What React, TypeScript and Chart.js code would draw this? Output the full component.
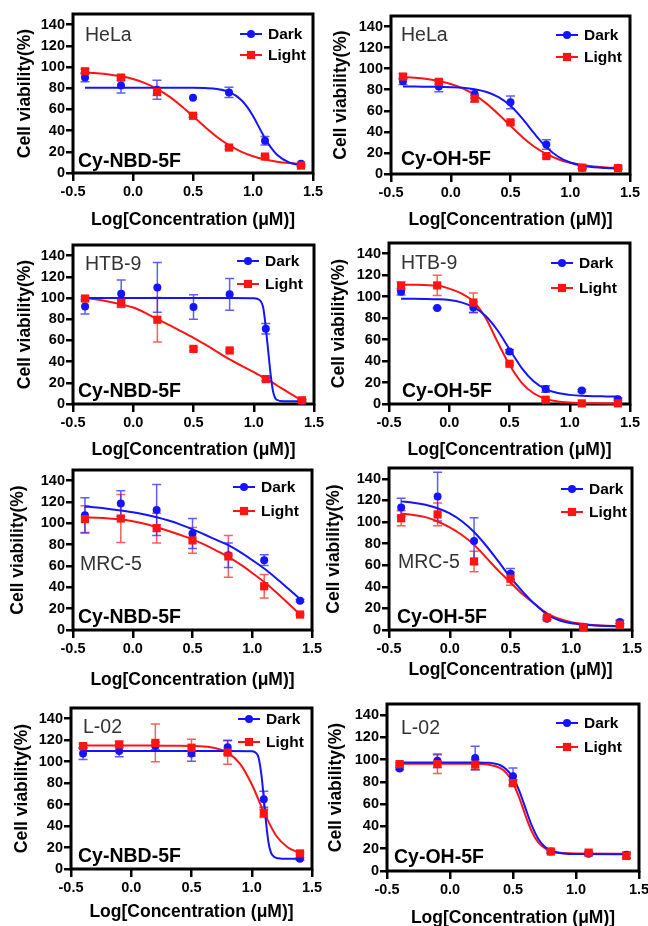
import React, { useEffect, useRef } from 'react';
import { Chart, registerables } from 'chart.js';

Chart.register(...registerables);

const FONT = "'Liberation Sans', Arial, Helvetica, sans-serif";
const BLUE = 'rgb(20, 20, 255)';
const RED = 'rgb(255, 20, 20)';
const BLUE_ERR = 'rgba(40, 40, 255, 0.75)';
const RED_ERR = 'rgba(255, 40, 40, 0.75)';

// ---------- shared axes ----------
const DOSE_X = [-0.4, -0.1, 0.2, 0.5, 0.8, 1.1, 1.4];
const FIT_X = [-0.4, -0.3, -0.2, -0.1, 0, 0.1, 0.2, 0.3, 0.4, 0.5, 0.6, 0.7, 0.8, 0.9, 1.0, 1.1, 1.2, 1.3, 1.4];
const X_TICKS = [-0.5, 0, 0.5, 1.0, 1.5];
const Y_TICKS = [0, 20, 40, 60, 80, 100, 120, 140];
const SERIES_NAMES = ['Dark', 'Light'];
const X_TITLE = 'Log[Concentration (μM)]';
const Y_TITLE = 'Cell viability(%)';

// ---------- HeLa / Cy-NBD-5F ----------
const HELA_NBD_DARK = [90, 82.5, 78.5, 71, 76, 30.5, 8.8];
const HELA_NBD_DARK_SD = [4, 7, 9, 0, 4.8, 4, 0];
const HELA_NBD_LIGHT = [96, 90, 76.5, 54, 24, 15.5, 7];
const HELA_NBD_LIGHT_SD = [2, 2.5, 3.5, 1.5, 1.5, 1, 1];
const HELA_NBD_DARK_FIT_X = [-0.4, -0.1, 0.2, 0.5, 0.6, 0.7, 0.8, 0.9, 0.95, 1.0, 1.05, 1.1, 1.15, 1.2, 1.3, 1.4];
const HELA_NBD_DARK_FIT = [80.5, 80.5, 80.5, 80.5, 80.1, 79.2, 76.5, 69.2, 62.6, 53.7, 43.3, 32.8, 23.9, 17.3, 10, 7.3];
const HELA_NBD_LIGHT_FIT = [94.7, 94.0, 92.9, 91.2, 88.6, 84.8, 79.4, 72.3, 63.5, 53.6, 43.4, 34.0, 26.2, 20.2, 15.8, 12.7, 10.7, 9.4, 8.5];

// ---------- HeLa / Cy-OH-5F ----------
const HELA_OH_DARK = [88, 83, 76, 68, 28, 6, 6];
const HELA_OH_DARK_SD = [3, 5, 4, 6, 4.5, 1, 1.5];
const HELA_OH_LIGHT = [92.5, 87.5, 71.5, 49, 17, 6, 5.5];
const HELA_OH_LIGHT_SD = [2.5, 2, 3, 1.5, 1.5, 1, 1];
const HELA_OH_DARK_FIT = [83, 83, 82.9, 82.8, 82.4, 81.8, 80.4, 77.8, 73, 64.7, 52.5, 38.3, 25.5, 16.4, 10.9, 7.9, 6.4, 5.7, 5.3];
const HELA_OH_LIGHT_FIT = [92, 91.3, 90.1, 88.3, 85.5, 81.3, 75.1, 66.8, 56.7, 45.7, 35, 25.9, 19, 14, 10.6, 8.5, 7.1, 6.2, 5.8];

// ---------- HTB-9 / Cy-NBD-5F ----------
const HTB_NBD_DARK = [92, 104, 110, 91.5, 103.5, 71, 3];
const HTB_NBD_DARK_SD = [7, 13, 23.5, 11.5, 15, 5, 1];
const HTB_NBD_LIGHT = [99.5, 95.5, 79.5, 52, 50.5, 23.5, 3.5];
const HTB_NBD_LIGHT_SD = [2, 3, 21, 1.5, 1.5, 1.5, 1];
const HTB_NBD_DARK_FIT_X = [-0.4, 0.2, 0.8, 1.0, 1.05, 1.08, 1.1, 1.12, 1.14, 1.16, 1.19, 1.25, 1.4];
const HTB_NBD_DARK_FIT = [100, 100, 100, 99.8, 98, 90, 72, 50, 28, 12, 4, 2.5, 2.5];
const HTB_NBD_LIGHT_FIT = [100, 98.5, 96.5, 94, 91, 86, 80, 74.5, 68.5, 62.4, 56, 49, 42, 36, 30, 24, 17, 10, 3.5];

// ---------- HTB-9 / Cy-OH-5F ----------
const HTB_OH_DARK = [104.5, 89.5, 90, 49, 14, 12.5, 4.5];
const HTB_OH_DARK_SD = [3, 0.5, 5, 1.5, 3, 1, 1];
const HTB_OH_LIGHT = [110, 110.5, 94.5, 37.5, 4, 0.6, 0.6];
const HTB_OH_LIGHT_SD = [4, 9.5, 9, 1.5, 1, 0.5, 0.5];
const HTB_OH_DARK_FIT = [98, 98, 97.9, 97.6, 96.8, 94.7, 90.4, 82.2, 68.7, 51, 33.7, 21.2, 13.9, 10.2, 8.5, 7.6, 7.2, 7.1, 7];
const HTB_OH_LIGHT_FIT = [111, 111, 110.8, 110.3, 107.5, 103, 95.5, 80.5, 58, 36.5, 20, 10, 4.8, 2.4, 1.3, 0.8, 0.6, 0.5, 0.5];

// ---------- MRC-5 / Cy-NBD-5F ----------
const MRC_NBD_DARK = [107.5, 118.5, 112.5, 90.5, 70, 65.5, 27.5];
const MRC_NBD_DARK_SD = [16.5, 12, 24, 14, 11.5, 5, 1];
const MRC_NBD_LIGHT = [104, 104.5, 95.5, 84, 69, 41, 14.5];
const MRC_NBD_LIGHT_SD = [12.5, 22.5, 14, 12, 19.5, 11, 1];
const MRC_NBD_DARK_FIT = [115.8, 114.8, 113.5, 112, 110.3, 108.2, 105.7, 102.6, 98.8, 94.4, 89.5, 84.5, 79.5, 73, 65.5, 57.6, 48.5, 38.8, 29];
const MRC_NBD_LIGHT_FIT = [105.5, 105.2, 104.6, 103.6, 102, 99.6, 96.3, 92.8, 89, 85, 80, 74.5, 68.6, 61.5, 53.5, 45, 35.5, 25, 14.5];

// ---------- MRC-5 / Cy-OH-5F ----------
const MRC_OH_DARK = [113.5, 123.5, 82.5, 52, 10.5, 3, 7.5];
const MRC_OH_DARK_SD = [8.5, 22.5, 21.5, 5, 1, 1, 1.5];
const MRC_OH_LIGHT = [103.5, 107, 63.5, 47.5, 11.5, 2.5, 5];
const MRC_OH_LIGHT_SD = [7, 10.5, 9.5, 6, 1.5, 1, 1];
const MRC_OH_DARK_FIT = [119.1, 117.9, 115.9, 112.7, 107.9, 100.7, 90.7, 78, 63.5, 48.7, 35.6, 24, 14.5, 9, 6.3, 5, 4.2, 3.7, 3.4];
const MRC_OH_LIGHT_FIT = [107.8, 106.5, 104.5, 100.5, 95, 88, 79, 67, 55, 44, 33, 24, 15.5, 10.5, 7.3, 5.6, 4.5, 3.9, 3.5];

// ---------- L-02 / Cy-NBD-5F ----------
const L02_NBD_DARK = [107.5, 110, 114.5, 107.5, 113.5, 65, 9.5];
const L02_NBD_DARK_SD = [5.5, 5.5, 3.5, 7, 6.5, 7.5, 1];
const L02_NBD_LIGHT = [114.5, 116, 117.5, 113, 108.5, 52, 14.5];
const L02_NBD_LIGHT_SD = [2, 3, 17.5, 8, 11, 4, 1];
const L02_NBD_DARK_FIT_X = [-0.4, 0.2, 0.8, 1.0, 1.05, 1.08, 1.1, 1.12, 1.14, 1.17, 1.22, 1.3, 1.4];
const L02_NBD_DARK_FIT = [110, 110, 110, 109.8, 106, 88, 66, 42, 24, 13, 10, 9.5, 9.5];
const L02_NBD_LIGHT_FIT = [115, 115, 115, 115, 115, 115, 115, 114.9, 114.8, 114.6, 114.2, 112.6, 108.5, 98.5, 79, 53, 31.5, 20, 15];

// ---------- L-02 / Cy-OH-5F ----------
const L02_OH_DARK = [92, 99, 101.5, 85, 17.5, 15.5, 14.5];
const L02_OH_DARK_SD = [1, 6, 10.5, 7.5, 1.5, 1.5, 2.5];
const L02_OH_LIGHT = [96, 96, 95.5, 79, 17.5, 16.5, 13.5];
const L02_OH_LIGHT_SD = [1, 8.5, 4.5, 3, 1, 1, 2];
const L02_OH_FIT_X = [-0.4, 0.2, 0.3, 0.4, 0.45, 0.5, 0.55, 0.6, 0.65, 0.7, 0.75, 0.8, 0.9, 1.0, 1.4];
const L02_OH_DARK_FIT = [97.5, 97.5, 97.2, 95, 91, 84, 72, 56, 40.5, 29, 22, 18.2, 15.8, 15.2, 15];
const L02_OH_LIGHT_FIT = [96.3, 96.3, 95.6, 92.3, 87.6, 79, 65.6, 49.5, 35.3, 25.7, 20.7, 17.8, 16.2, 15.7, 15.5];

type Series = { pts: number[]; sd: number[]; fitX: number[]; fitY: number[] };
type PanelDef = {
  cell: string;
  compound: string;
  dark: Series;
  light: Series;
  col: number;
  plot: { l: number; t: number; r: number; b: number };
  yTitleX: number;
  xTitleY: number;
  cellPos: [number, number];
  compPos: [number, number];
  legend: [number, number, number];
};

const PANELS: PanelDef[] = [
  {
    cell: 'HeLa', compound: 'Cy-NBD-5F',
    dark: { pts: HELA_NBD_DARK, sd: HELA_NBD_DARK_SD, fitX: HELA_NBD_DARK_FIT_X, fitY: HELA_NBD_DARK_FIT },
    light: { pts: HELA_NBD_LIGHT, sd: HELA_NBD_LIGHT_SD, fitX: FIT_X, fitY: HELA_NBD_LIGHT_FIT },
    col: 0, plot: { l: 73, t: 14, r: 313, b: 173 }, yTitleX: 25, xTitleY: 220,
    cellPos: [12, 27], compPos: [5, -6], legend: [-73, 20, 41],
  },
  {
    cell: 'HeLa', compound: 'Cy-OH-5F',
    dark: { pts: HELA_OH_DARK, sd: HELA_OH_DARK_SD, fitX: FIT_X, fitY: HELA_OH_DARK_FIT },
    light: { pts: HELA_OH_LIGHT, sd: HELA_OH_LIGHT_SD, fitX: FIT_X, fitY: HELA_OH_LIGHT_FIT },
    col: 1, plot: { l: 391, t: 16, r: 630, b: 174 }, yTitleX: 340.7, xTitleY: 220,
    cellPos: [10, 25], compPos: [10, -9], legend: [-74, 19, 41],
  },
  {
    cell: 'HTB-9', compound: 'Cy-NBD-5F',
    dark: { pts: HTB_NBD_DARK, sd: HTB_NBD_DARK_SD, fitX: HTB_NBD_DARK_FIT_X, fitY: HTB_NBD_DARK_FIT },
    light: { pts: HTB_NBD_LIGHT, sd: HTB_NBD_LIGHT_SD, fitX: FIT_X, fitY: HTB_NBD_LIGHT_FIT },
    col: 0, plot: { l: 73, t: 245, r: 314, b: 404 }, yTitleX: 25, xTitleY: 450,
    cellPos: [12, 25], compPos: [5, -7], legend: [-77, 16, 39],
  },
  {
    cell: 'HTB-9', compound: 'Cy-OH-5F',
    dark: { pts: HTB_OH_DARK, sd: HTB_OH_DARK_SD, fitX: FIT_X, fitY: HTB_OH_DARK_FIT },
    light: { pts: HTB_OH_LIGHT, sd: HTB_OH_LIGHT_SD, fitX: FIT_X, fitY: HTB_OH_LIGHT_FIT },
    col: 1, plot: { l: 389, t: 243, r: 630, b: 404 }, yTitleX: 339, xTitleY: 450,
    cellPos: [12, 26], compPos: [13, -7], legend: [-79, 20, 45],
  },
  {
    cell: 'MRC-5', compound: 'Cy-NBD-5F',
    dark: { pts: MRC_NBD_DARK, sd: MRC_NBD_DARK_SD, fitX: FIT_X, fitY: MRC_NBD_DARK_FIT },
    light: { pts: MRC_NBD_LIGHT, sd: MRC_NBD_LIGHT_SD, fitX: FIT_X, fitY: MRC_NBD_LIGHT_FIT },
    col: 0, plot: { l: 73, t: 470, r: 312, b: 630 }, yTitleX: 18.3, xTitleY: 680,
    cellPos: [7, 100], compPos: [5, -7], legend: [-79, 17, 41],
  },
  {
    cell: 'MRC-5', compound: 'Cy-OH-5F',
    dark: { pts: MRC_OH_DARK, sd: MRC_OH_DARK_SD, fitX: FIT_X, fitY: MRC_OH_DARK_FIT },
    light: { pts: MRC_OH_LIGHT, sd: MRC_OH_LIGHT_SD, fitX: FIT_X, fitY: MRC_OH_LIGHT_FIT },
    col: 1, plot: { l: 389, t: 468, r: 632, b: 630 }, yTitleX: 334, xTitleY: 670,
    cellPos: [9, 100], compPos: [8, -7], legend: [-71, 21, 44],
  },
  {
    cell: 'L-02', compound: 'Cy-NBD-5F',
    dark: { pts: L02_NBD_DARK, sd: L02_NBD_DARK_SD, fitX: L02_NBD_DARK_FIT_X, fitY: L02_NBD_DARK_FIT },
    light: { pts: L02_NBD_LIGHT, sd: L02_NBD_LIGHT_SD, fitX: FIT_X, fitY: L02_NBD_LIGHT_FIT },
    col: 0, plot: { l: 71, t: 708, r: 312, b: 869 }, yTitleX: 21.7, xTitleY: 911.7,
    cellPos: [12, 25], compPos: [7, -7], legend: [-74, 11, 34],
  },
  {
    cell: 'L-02', compound: 'Cy-OH-5F',
    dark: { pts: L02_OH_DARK, sd: L02_OH_DARK_SD, fitX: L02_OH_FIT_X, fitY: L02_OH_DARK_FIT },
    light: { pts: L02_OH_LIGHT, sd: L02_OH_LIGHT_SD, fitX: L02_OH_FIT_X, fitY: L02_OH_LIGHT_FIT },
    col: 1, plot: { l: 387, t: 704, r: 639, b: 871 }, yTitleX: 335.7, xTitleY: 918,
    cellPos: [14, 30], compPos: [7, -8], legend: [-83, 19, 43],
  },
];

const CIRCLE_R = 4;
const RECT_R = 5.8;

function drawMarker(ctx: CanvasRenderingContext2D, kind: 'circle' | 'rect', x: number, y: number, color: string) {
  ctx.fillStyle = color;
  ctx.beginPath();
  if (kind === 'circle') {
    ctx.arc(x, y, CIRCLE_R, 0, Math.PI * 2);
  } else {
    const s = RECT_R * Math.SQRT1_2;
    ctx.rect(x - s, y - s, 2 * s, 2 * s);
  }
  ctx.fill();
}

function Panel({ p }: { p: PanelDef }) {
  const ref = useRef<HTMLCanvasElement | null>(null);
  const canvasLeft = p.col === 0 ? -6 : 318;
  const canvasTop = p.plot.t - 12;
  const canvasRight = p.plot.r + 30;
  const canvasBottom = Math.round(p.xTitleY + 14);
  const W = canvasRight - canvasLeft;
  const H = canvasBottom - canvasTop;

  useEffect(() => {
    if (!ref.current) return;
    const yScaleW = p.plot.l - canvasLeft;
    const xScaleH = canvasBottom - p.plot.b;
    const titleLH = 17.5 * 1.2;
    const yTitlePad = p.yTitleX - canvasLeft - titleLH / 2;
    const xTitlePad = canvasBottom - p.xTitleY - titleLH / 2;

    const decor = {
      id: 'decor',
      beforeDatasetsDraw(chart: any) {
        const { ctx, chartArea: a, scales } = chart;
        ctx.save();
        ctx.strokeStyle = '#000';
        ctx.lineWidth = 3;
        ctx.strokeRect(a.left, a.top, a.right - a.left, a.bottom - a.top);
        // error bars
        chart.data.datasets.forEach((ds: any) => {
          if (!ds.sd) return;
          ctx.strokeStyle = ds.errColor;
          ctx.lineWidth = 1.5;
          ds.data.forEach((pt: any, i: number) => {
            const e = ds.sd[i];
            if (!e) return;
            const x = scales.x.getPixelForValue(pt.x);
            const y1 = scales.y.getPixelForValue(pt.y + e);
            const y2 = scales.y.getPixelForValue(Math.max(pt.y - e, 0));
            ctx.beginPath();
            ctx.moveTo(x, y1);
            ctx.lineTo(x, y2);
            ctx.moveTo(x - 4.5, y1);
            ctx.lineTo(x + 4.5, y1);
            ctx.moveTo(x - 4.5, y2);
            ctx.lineTo(x + 4.5, y2);
            ctx.stroke();
          });
        });
        ctx.restore();
      },
      afterDatasetsDraw(chart: any) {
        const { ctx, chartArea: a } = chart;
        ctx.save();
        ctx.textAlign = 'left';
        ctx.textBaseline = 'alphabetic';
        ctx.fillStyle = '#333';
        ctx.font = `19.5px ${FONT}`;
        ctx.fillText(p.cell, a.left + p.cellPos[0], a.top + p.cellPos[1]);
        ctx.fillStyle = '#000';
        ctx.font = `bold 19.5px ${FONT}`;
        ctx.fillText(p.compound, a.left + p.compPos[0], a.bottom + p.compPos[1]);
        // legend
        const lx = a.right + p.legend[0];
        const items: [string, string, 'circle' | 'rect', number][] = [
          [SERIES_NAMES[0], BLUE, 'circle', a.top + p.legend[1]],
          [SERIES_NAMES[1], RED, 'rect', a.top + p.legend[2]],
        ];
        ctx.font = `bold 15.5px ${FONT}`;
        ctx.textBaseline = 'middle';
        items.forEach(([name, color, kind, y]) => {
          ctx.strokeStyle = color;
          ctx.lineWidth = 2;
          ctx.beginPath();
          ctx.moveTo(lx, y);
          ctx.lineTo(lx + 22, y);
          ctx.stroke();
          drawMarker(ctx, kind, lx + 11, y, color);
          ctx.fillStyle = '#000';
          ctx.fillText(name, lx + 28, y + 1);
        });
        ctx.restore();
      },
    };

    const toPts = (xs: number[], ys: number[]) => ys.map((y, i) => ({ x: xs[i], y }));

    const tickFont = { family: FONT, size: 14.5, weight: 'bold' as const };
    const titleFont = { family: FONT, size: 17.5, weight: 'bold' as const };
    const grid = {
      display: true,
      drawOnChartArea: false,
      drawTicks: true,
      tickWidth: 2.5,
      tickColor: '#000',
      color: '#000',
      lineWidth: 2.5,
    };

    const chart = new Chart(ref.current, {
      type: 'line',
      data: {
        datasets: [
          {
            label: 'Light points', data: toPts(DOSE_X, p.light.pts), showLine: false,
            pointStyle: 'rect', pointRadius: RECT_R, pointBackgroundColor: RED, pointBorderWidth: 0,
            borderColor: RED, backgroundColor: RED, order: 0, clip: false,
            sd: p.light.sd, errColor: RED_ERR,
          } as any,
          {
            label: 'Dark points', data: toPts(DOSE_X, p.dark.pts), showLine: false,
            pointStyle: 'circle', pointRadius: CIRCLE_R, pointBackgroundColor: BLUE, pointBorderWidth: 0,
            borderColor: BLUE, backgroundColor: BLUE, order: 0, clip: false,
            sd: p.dark.sd, errColor: BLUE_ERR,
          } as any,
          {
            label: 'Dark fit', data: toPts(p.dark.fitX, p.dark.fitY), showLine: true,
            pointRadius: 0, borderColor: BLUE, borderWidth: 2, cubicInterpolationMode: 'monotone',
            fill: false, order: 1, clip: false,
          } as any,
          {
            label: 'Light fit', data: toPts(p.light.fitX, p.light.fitY), showLine: true,
            pointRadius: 0, borderColor: RED, borderWidth: 2, cubicInterpolationMode: 'monotone',
            fill: false, order: 2, clip: false,
          } as any,
        ],
      },
      options: {
        responsive: false,
        animation: false,
        devicePixelRatio: 1,
        events: [],
        layout: {
          padding: { left: 0, top: p.plot.t - canvasTop, right: canvasRight - p.plot.r, bottom: 0 },
        },
        plugins: {
          legend: { display: false },
          tooltip: { enabled: false },
        },
        scales: {
          x: {
            type: 'linear',
            min: -0.5,
            max: 1.5,
            afterFit: (s: any) => { s.height = xScaleH; },
            afterBuildTicks: (s: any) => { s.ticks = X_TICKS.map((v) => ({ value: v })); },
            ticks: {
              callback: (v: any) => Number(v).toFixed(1),
              font: tickFont,
              color: '#000',
              padding: 2,
              maxRotation: 0,
              autoSkip: false,
            },
            grid: { ...grid, tickLength: 8 },
            border: { display: false },
            title: {
              display: true, text: X_TITLE, font: titleFont, color: '#000',
              padding: { top: 0, bottom: xTitlePad },
            },
          },
          y: {
            type: 'linear',
            min: 0,
            max: 150,
            afterFit: (s: any) => { s.width = yScaleW; },
            afterBuildTicks: (s: any) => { s.ticks = Y_TICKS.map((v) => ({ value: v })); },
            ticks: { font: tickFont, color: '#000', padding: 1, autoSkip: false },
            grid: { ...grid, tickLength: 7 },
            border: { display: false },
            title: {
              display: true, text: Y_TITLE, font: titleFont, color: '#000',
              padding: { top: yTitlePad, bottom: 0 },
            },
          },
        },
      } as any,
      plugins: [decor],
    });
    return () => chart.destroy();
  }, []);

  return (
    <canvas
      ref={ref}
      width={W}
      height={H}
      style={{ position: 'absolute', left: canvasLeft, top: canvasTop, width: W, height: H }}
    />
  );
}

export default function App() {
  return (
    <div
      style={{
        position: 'absolute', left: 0, top: 0, width: 648, height: 926,
        overflow: 'hidden', background: '#fff',
      }}
    >
      {PANELS.map((p, i) => (
        <Panel key={i} p={p} />
      ))}
    </div>
  );
}
